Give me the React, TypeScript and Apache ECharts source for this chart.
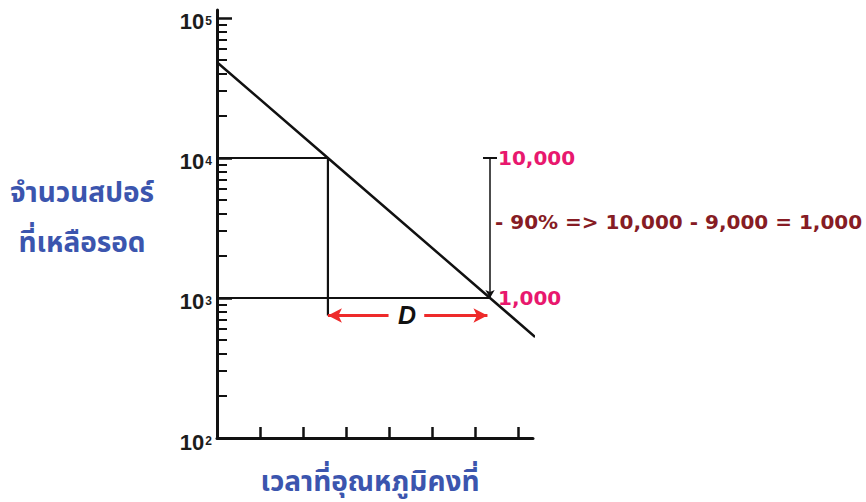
import React, { useEffect, useRef } from 'react';
import * as echarts from 'echarts';

// x: time units (ticks only, no labels)
const timeTicks = [1, 2, 3, 4, 5, 6, 7];
// y: spore count on a log axis
const decadeTicks = [100, 1000, 10000, 100000];
const minorTicks = [
  200, 300, 400, 500, 600, 700, 800, 900,
  2000, 3000, 4000, 5000, 6000, 7000, 8000, 9000,
  20000, 30000, 40000, 50000, 60000, 70000, 80000, 90000,
];

// survivor curve (straight on semi-log paper)
const crossing10k = 2.58;
const crossing1k = 6.35;
const survivorCurve: [number, number][] = [
  [0, 48300],
  [crossing10k, 10000],
  [crossing1k, 1000],
  [7.4, 527],
];

// guide lines
const guide10k: [number, number][] = [
  [0, 10000],
  [crossing10k, 10000],
  [crossing10k, 750],
];
const guide1k: [number, number][] = [
  [0, 1000],
  [crossing1k, 1000],
];

// D-value annotation
const dArrowValue = 750;
const dLeftEnd = 3.99;
const dRightStart = 4.82;
const dRightEnd = 6.29;
const dLabelAt = 4.42;
const noteValue = 3500;
const topLabel = '10,000';
const bottomLabel = '1,000';
const noteLabel = '- 90% => 10,000 - 9,000 = 1,000';

const yTitle = 'จำนวนสปอร์\nที่เหลือรอด';
const xTitle = 'เวลาที่อุณหภูมิคงที่';

const INK = '#111111';
const PINK = '#e8186e';
const MAROON = '#861c24';
const BLUE = '#3b55ae';
const RED = '#ee2a2a';
const THAI_FONT = "'Noto Sans Thai', 'Noto Sans Thai Looped', 'Leelawadee UI', Tahoma, 'Noto Sans', sans-serif";
const NUM_FONT = "'Liberation Sans', Arial, sans-serif";

export default function App() {
  const ref = useRef<HTMLDivElement>(null);

  useEffect(() => {
    if (!ref.current) return;
    const chart = echarts.init(ref.current, undefined, { renderer: 'svg' });

    const yMin = 100;
    const yMax = 114000;

    chart.setOption({
      animation: false,
      backgroundColor: '#ffffff',
      grid: { left: 217, top: 10, width: 316, height: 428, containLabel: false },
      xAxis: {
        type: 'value',
        min: 0,
        max: 7.35,
        axisLine: { show: true, lineStyle: { color: INK, width: 3 } },
        axisTick: {
          show: true,
          inside: true,
          length: 11,
          customValues: timeTicks,
          lineStyle: { color: INK, width: 2.5 },
        },
        axisLabel: { show: false },
        splitLine: { show: false },
      },
      yAxis: [
        {
          type: 'log',
          logBase: 10,
          min: yMin,
          max: yMax,
          axisLine: { show: true, lineStyle: { color: INK, width: 3 } },
          axisTick: {
            show: true,
            inside: true,
            length: 15,
            customValues: decadeTicks,
            lineStyle: { color: INK, width: 2.5 },
          },
          axisLabel: {
            show: true,
            customValues: decadeTicks,
            margin: 5,
            formatter: (v: number) => `{b|10}{s|${Math.round(Math.log10(v))}}`,
            rich: {
              b: {
                fontFamily: NUM_FONT,
                fontWeight: 'bold',
                fontSize: 22,
                lineHeight: 22,
                color: '#1c1c1c',
                padding: [8, 0, 0, 0],
              },
              s: {
                fontFamily: NUM_FONT,
                fontWeight: 'bold',
                fontSize: 12,
                lineHeight: 12,
                color: '#1c1c1c',
                verticalAlign: 'top',
                padding: [8, 0, 0, 1],
              },
            },
          },
          splitLine: { show: false },
        },
        {
          type: 'log',
          logBase: 10,
          min: yMin,
          max: yMax,
          position: 'left',
          axisLine: { show: false },
          axisTick: {
            show: true,
            inside: true,
            length: 10,
            customValues: minorTicks,
            lineStyle: { color: INK, width: 2 },
          },
          axisLabel: { show: false },
          splitLine: { show: false },
        },
      ],
      series: [
        {
          name: 'survivors',
          type: 'line',
          data: survivorCurve,
          symbol: 'none',
          clip: false,
          silent: true,
          lineStyle: { color: INK, width: 2.5 },
          z: 5,
        },
        {
          name: 'guide10k',
          type: 'line',
          data: guide10k,
          symbol: 'none',
          silent: true,
          lineStyle: { color: INK, width: 2.2 },
        },
        {
          name: 'guide1k',
          type: 'line',
          data: guide1k,
          symbol: 'none',
          silent: true,
          lineStyle: { color: INK, width: 2.2 },
        },
        {
          name: 'annotations',
          type: 'line',
          data: [],
          silent: true,
          markLine: {
            silent: true,
            animation: false,
            label: { show: false },
            emphasis: { disabled: true },
            data: [
              [
                {
                  coord: [crossing1k, 10000],
                  symbol: 'rect',
                  symbolSize: [14, 2],
                  lineStyle: { color: INK, width: 1.5, type: 'solid' },
                },
                { coord: [crossing1k, 1000], symbol: 'arrow', symbolSize: [7, 8] },
              ],
              [
                {
                  coord: [crossing10k, dArrowValue],
                  symbol: 'arrow',
                  symbolSize: [11, 14],
                  lineStyle: { color: RED, width: 3, type: 'solid' },
                },
                { coord: [dLeftEnd, dArrowValue], symbol: 'none' },
              ],
              [
                {
                  coord: [dRightStart, dArrowValue],
                  symbol: 'none',
                  lineStyle: { color: RED, width: 3, type: 'solid' },
                },
                { coord: [dRightEnd, dArrowValue], symbol: 'arrow', symbolSize: [11, 14] },
              ],
            ],
          },
          markPoint: {
            silent: true,
            symbol: 'circle',
            symbolSize: 0,
            animation: false,
            data: [
              {
                coord: [crossing1k, 10000],
                label: {
                  show: true,
                  position: 'right',
                  distance: 8,
                  formatter: topLabel,
                  color: PINK,
                  fontFamily: "'DejaVu Sans', sans-serif",
                  fontWeight: 'bold',
                  fontSize: 20,
                },
              },
              {
                coord: [crossing1k, 1000],
                label: {
                  show: true,
                  position: 'right',
                  distance: 8,
                  formatter: bottomLabel,
                  color: PINK,
                  fontFamily: "'DejaVu Sans', sans-serif",
                  fontWeight: 'bold',
                  fontSize: 20,
                },
              },
              {
                coord: [crossing1k, noteValue],
                label: {
                  show: true,
                  position: 'right',
                  distance: 5,
                  formatter: noteLabel,
                  color: MAROON,
                  fontFamily: "'DejaVu Sans', sans-serif",
                  fontWeight: 'bold',
                  fontSize: 20,
                },
              },
              {
                coord: [dLabelAt, dArrowValue],
                label: {
                  show: true,
                  position: 'inside',
                  formatter: 'D',
                  color: '#111111',
                  fontFamily: NUM_FONT,
                  fontWeight: 'bold',
                  fontStyle: 'italic',
                  fontSize: 25,
                },
              },
            ],
          },
        },
      ],
      graphic: [
        {
          type: 'text',
          x: 82,
          y: 168,
          silent: true,
          style: {
            text: yTitle,
            fill: BLUE,
            font: `bold 28px ${THAI_FONT}`,
            lineHeight: 50,
            align: 'center',
          },
        },
        {
          type: 'text',
          x: 370,
          y: 482,
          silent: true,
          style: {
            text: xTitle,
            fill: BLUE,
            font: `bold 28px ${THAI_FONT}`,
            align: 'center',
            verticalAlign: 'middle',
          },
        },
      ],
    });

    return () => chart.dispose();
  }, []);

  return (
    <div
      ref={ref}
      style={{ position: 'fixed', left: 0, top: 0, width: 866, height: 502, background: '#fff' }}
    />
  );
}
